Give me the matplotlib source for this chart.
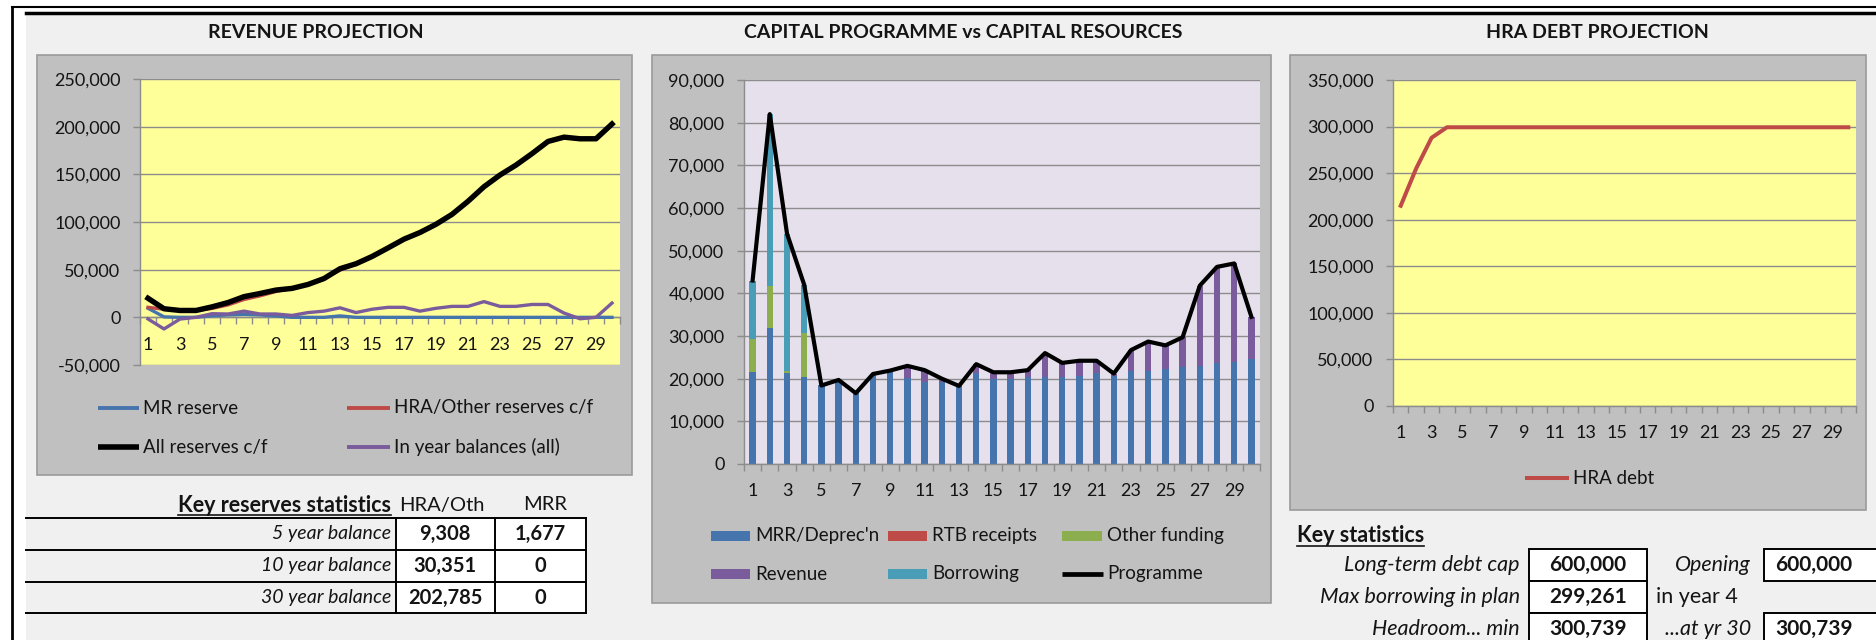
import matplotlib
matplotlib.use("Agg")
import matplotlib.pyplot as plt
import numpy as np
from matplotlib.patches import Rectangle
from matplotlib.ticker import FuncFormatter

plt.rcParams['font.family'] = ['Lato', 'DejaVu Sans']

# -----------------------------
# Data
# -----------------------------
years = list(range(1, 31))
year_labels = [str(y) if y % 2 == 1 else "" for y in years]

# Revenue projection (lines)
mr_reserve = [9500, 500, 0, 0, 1677, 2500, 3000, 2500, 1500, 0,
              0, 0, 1500, 0, 0, 0, 0, 0, 0, 0,
              0, 0, 0, 0, 0, 0, 0, 0, 0, 0]
hra_other = [10500, 8500, 7200, 7200, 9308, 13000, 18700, 22500, 27100, 30351,
             34500, 40700, 49500, 56200, 63800, 72800, 82000, 89000, 97600, 108000,
             121700, 137000, 149300, 159700, 171700, 184500, 189000, 187300, 187300, 202785]
all_reserves = [20000, 9000, 7200, 7200, 10985, 15500, 21700, 25000, 28600, 30351,
                34500, 40700, 51000, 56200, 63800, 72800, 82000, 89000, 97600, 108000,
                121700, 137000, 149300, 159700, 171700, 184500, 189000, 187300, 187300, 202785]
in_year = [-1700, -12200, -1800, 0, 3800, 3500, 6500, 3500, 3500, 2000,
           5000, 6500, 10000, 5000, 8500, 10500, 10500, 6500, 9500, 11500,
           11500, 16500, 11500, 11500, 13500, 13500, 4500, -1500, 0, 15000]

# Capital programme vs resources (stacked bars + line)
mrr_deprec = [21500, 31800, 21300, 20300, 18400, 19500, 16600, 21000, 21500, 20200,
              19300, 19300, 18300, 21300, 19900, 19900, 20300, 20300, 20300, 20700,
              21300, 20700, 21900, 21900, 22300, 22700, 23000, 23600, 24000, 24600]
rtb_receipts = [0, 0, 0, 0, 0, 0, 0, 0, 0, 0,
                0, 0, 0, 0, 0, 0, 0, 0, 0, 0,
                0, 0, 0, 0, 0, 0, 0, 0, 0, 0]
other_funding = [7800, 10000, 400, 10400, 0, 0, 0, 0, 0, 0,
                 0, 0, 0, 0, 0, 0, 0, 0, 0, 0,
                 0, 0, 0, 0, 0, 0, 0, 0, 0, 0]
revenue = [0, 0, 0, 0, 0, 200, 0, 100, 400, 2800,
           2700, 700, 0, 2100, 1600, 1600, 1700, 5700, 3400, 3500,
           2900, 500, 4800, 6800, 5500, 7000, 18800, 22600, 23000, 9900]
borrowing = [13700, 40200, 32300, 11300, 0, 0, 0, 0, 0, 0,
             0, 0, 0, 0, 0, 0, 0, 0, 0, 0,
             0, 0, 0, 0, 0, 0, 0, 0, 0, 0]
programme = [43000, 82000, 54000, 42000, 18400, 19700, 16600, 21100, 21900, 23000,
             22000, 20000, 18300, 23400, 21500, 21500, 22000, 26000, 23700, 24200,
             24200, 21200, 26700, 28700, 27800, 29700, 41800, 46200, 47000, 34500]

# HRA debt
hra_debt = [215000, 255000, 288000, 299261, 299261, 299261, 299261, 299261, 299261, 299261,
            299261, 299261, 299261, 299261, 299261, 299261, 299261, 299261, 299261, 299261,
            299261, 299261, 299261, 299261, 299261, 299261, 299261, 299261, 299261, 299261]

# Tables
reserve_rows = ["5 year balance", "10 year balance", "30 year balance"]
reserve_hra = ["9,308", "30,351", "202,785"]
reserve_mrr = ["1,677", "0", "0"]

stat_labels = ["Long-term debt cap", "Max borrowing in plan", "Headroom... min"]
stat_values = ["600,000", "299,261", "300,739"]
stat_side_labels = ["Opening", "in year 4", "...at yr 30"]
stat_side_values = ["600,000", None, "300,739"]

# -----------------------------
# Colours
# -----------------------------
C_BLUE = "#4674AC"
C_RED = "#BE4B48"
C_GREEN = "#8DAE4E"
C_PURPLE = "#7A5C9C"
C_TEAL = "#4A9DB6"
C_GRID = "#8C8C8C"
C_PANEL = "#C0C0C0"
C_TEXT = "#141414"

W, H = 1876, 640
fig = plt.figure(figsize=(W / 100, H / 100), dpi=100)
fig.patch.set_facecolor("white")

# background axes in pixel coords (y down)
bg = fig.add_axes([0, 0, 1, 1])
bg.set_xlim(0, W)
bg.set_ylim(H, 0)
bg.axis("off")
bg.set_zorder(0)


def px_axes(x0, y0, x1, y1):
    ax = fig.add_axes([x0 / W, 1 - y1 / H, (x1 - x0) / W, (y1 - y0) / H])
    ax.set_zorder(2)
    return ax


# page frame
bg.add_patch(Rectangle((26, 15), W - 26, H - 15, fc="#F0F0F0", ec="none"))
bg.plot([12, W], [7, 7], color="black", lw=1.5)
bg.plot([12, 12], [7, H], color="black", lw=2)
bg.plot([26, W], [13, 13], color="black", lw=2.5)

# grey chart panels
for (x0, y0, x1, y1) in [(37, 55, 632, 475), (652, 55, 1271, 603), (1290, 55, 1866, 510)]:
    bg.add_patch(Rectangle((x0, y0), x1 - x0, y1 - y0, fc=C_PANEL, ec="#9A9A9A", lw=1.2))

# titles
for cx, title in [(316, "REVENUE PROJECTION"), (963, "CAPITAL PROGRAMME vs CAPITAL RESOURCES"),
                  (1597, "HRA DEBT PROJECTION")]:
    bg.text(cx, 32, title, ha="center", va="center", fontsize=14, fontweight="bold", color=C_TEXT)


def setup(ax, ymin, ymax, step, face):
    ax.set_facecolor(face)
    ax.set_xlim(0.5, 30.5)
    ax.set_ylim(ymin, ymax)
    ax.set_yticks(np.arange(ymin, ymax + 1, step))
    ax.yaxis.set_major_formatter(FuncFormatter(lambda v, p: f"{v:,.0f}"))
    ax.grid(axis="y", color=C_GRID, lw=1.0)
    ax.set_axisbelow(True)
    for s in ["top", "right"]:
        ax.spines[s].set_visible(False)
    for s in ["left", "bottom"]:
        ax.spines[s].set_color(C_GRID)
        ax.spines[s].set_linewidth(1.0)
    ax.tick_params(axis="y", direction="out", length=5, width=1, color=C_GRID,
                   pad=9, labelsize=13, labelcolor=C_TEXT)
    ax.set_xticks(np.arange(0.5, 31, 1))
    ax.set_xticklabels([])
    ax.tick_params(axis="x", which="major", direction="out", length=5, width=1, color=C_GRID)
    ax.set_xticks(years, labels=year_labels, minor=True)
    ax.tick_params(axis="x", which="minor", length=0, pad=14, labelsize=13, labelcolor=C_TEXT)


# -----------------------------
# Revenue projection
# -----------------------------
ax1 = px_axes(140, 79, 620, 365)
setup(ax1, -50000, 250000, 50000, "#FFFF99")
ax1.spines["bottom"].set_position(("data", 0))
ax1.plot(years, mr_reserve, color=C_BLUE, lw=2.4, zorder=3)
ax1.plot(years, hra_other, color=C_RED, lw=2.4, zorder=3)
ax1.plot(years, all_reserves, color="black", lw=3.9, zorder=3)
ax1.plot(years, in_year, color=C_PURPLE, lw=2.4, zorder=3)

# -----------------------------
# Capital programme
# -----------------------------
ax2 = px_axes(744, 80, 1260, 464)
setup(ax2, 0, 90000, 10000, "#E6E0EC")
bottom = np.zeros(len(years))
for vals, col in [(mrr_deprec, C_BLUE), (rtb_receipts, C_RED), (other_funding, C_GREEN),
                  (revenue, C_PURPLE), (borrowing, C_TEAL)]:
    ax2.bar(years, vals, 0.37, bottom=bottom, color=col, zorder=2)
    bottom += np.array(vals)
ax2.plot(years, programme, color="black", lw=3.0, zorder=3)

# -----------------------------
# HRA debt
# -----------------------------
ax3 = px_axes(1393, 80, 1856, 406)
setup(ax3, 0, 350000, 50000, "#FFFF99")
ax3.plot(years, hra_debt, color=C_RED, lw=2.9, zorder=3)

# -----------------------------
# Legends (drawn in pixel coords)
# -----------------------------
def leg_line(x0, x1, y, color, lw, label):
    bg.plot([x0, x1], [y, y], color=color, lw=lw, solid_capstyle="butt")
    bg.text(x1 + 4, y, label, ha="left", va="center", fontsize=13.5, color=C_TEXT)


def leg_patch(x0, x1, y, color, label):
    bg.add_patch(Rectangle((x0, y - 5), x1 - x0, 10, fc=color, ec="none"))
    bg.text(x1 + 5, y, label, ha="left", va="center", fontsize=13.5, color=C_TEXT)


leg_line(98, 139, 408, C_BLUE, 2.8, "MR reserve")
leg_line(347, 390, 408, C_RED, 2.8, "HRA/Other reserves c/f")
leg_line(98, 139, 447, "black", 4.0, "All reserves c/f")
leg_line(347, 390, 447, C_PURPLE, 2.8, "In year balances (all)")

leg_patch(711, 750, 536, C_BLUE, "MRR/Deprec'n")
leg_patch(888, 927, 536, C_RED, "RTB receipts")
leg_patch(1062, 1102, 536, C_GREEN, "Other funding")
leg_patch(711, 750, 574, C_PURPLE, "Revenue")
leg_patch(888, 927, 574, C_TEAL, "Borrowing")
leg_line(1062, 1103, 574, "black", 3.4, "Programme")

leg_line(1525, 1569, 478, C_RED, 2.9, "HRA debt")

# -----------------------------
# Key reserves statistics table
# -----------------------------
row_y = [518, 550, 582, 613]
bg.add_patch(Rectangle((396, 518), 586 - 396, 613 - 518, fc="white", ec="none"))
for y in row_y:
    bg.plot([26, 586], [y, y], color="black", lw=1.4)
for x in [396, 495, 586]:
    bg.plot([x, x], [518, 613], color="black", lw=1.4)
hdr = bg.text(391, 505, "Key reserves statistics", ha="right", va="center",
              fontsize=15.5, fontweight="bold", color=C_TEXT)
bg.text(442, 505, "HRA/Oth", ha="center", va="center", fontsize=14.5, color=C_TEXT)
bg.text(545, 505, "MRR", ha="center", va="center", fontsize=14.5, color=C_TEXT)
for i, (lab, v1, v2) in enumerate(zip(reserve_rows, reserve_hra, reserve_mrr)):
    yc = (row_y[i] + row_y[i + 1]) / 2
    bg.text(391, yc, lab, ha="right", va="center", fontsize=14, style="italic", color=C_TEXT)
    bg.text(445, yc, v1, ha="center", va="center", fontsize=14.5, fontweight="bold", color=C_TEXT)
    bg.text(540, yc, v2, ha="center", va="center", fontsize=14.5, fontweight="bold", color=C_TEXT)

# -----------------------------
# Key statistics (debt)
# -----------------------------
ks = bg.text(1297, 536, "Key statistics", ha="left", va="center",
             fontsize=15.5, fontweight="bold", color=C_TEXT)
srow = [549, 581, 613, 645]
for i, (lab, val, slab, sval) in enumerate(zip(stat_labels, stat_values,
                                               stat_side_labels, stat_side_values)):
    y0, y1 = srow[i], srow[i + 1]
    yc = (y0 + y1) / 2
    bg.add_patch(Rectangle((1529, y0), 1647 - 1529, y1 - y0, fc="white", ec="black", lw=1.4))
    bg.text(1520, yc, lab, ha="right", va="center", fontsize=15.5, style="italic", color=C_TEXT)
    bg.text(1588, yc, val, ha="center", va="center", fontsize=15, fontweight="bold", color=C_TEXT)
    if sval is None:
        bg.text(1656, yc, slab, ha="left", va="center", fontsize=15.5, color=C_TEXT)
    else:
        bg.add_patch(Rectangle((1764, y0), 1900 - 1764, y1 - y0, fc="white", ec="black", lw=1.4))
        bg.text(1751, yc, slab, ha="right", va="center", fontsize=15.5, style="italic", color=C_TEXT)
        bg.text(1814, yc, sval, ha="center", va="center", fontsize=15, fontweight="bold", color=C_TEXT)

# underline the bold headings
fig.canvas.draw()
inv = bg.transData.inverted()
for t in [hdr, ks]:
    bb = t.get_window_extent()
    (xa, ya), (xb, yb) = inv.transform([[bb.x0, bb.y0], [bb.x1, bb.y1]])
    bg.plot([xa, xb], [ya - 1, ya - 1], color=C_TEXT, lw=1.2)

fig.savefig("out.png", dpi=100)
